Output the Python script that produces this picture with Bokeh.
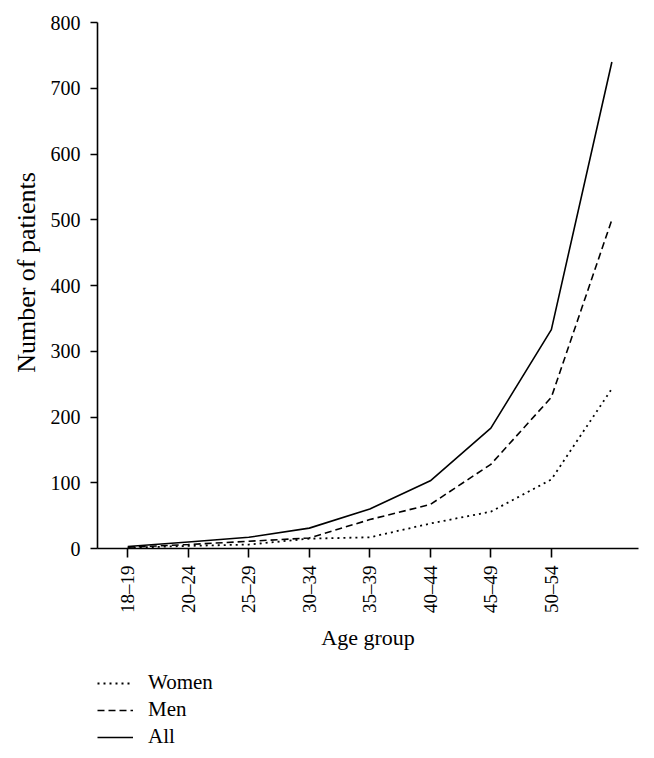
import math
from bokeh.plotting import figure
from bokeh.layouts import column
from bokeh.models import FixedTicker, Legend, LegendItem, Range1d
from bokeh.embed import file_html
from bokeh.resources import INLINE

# Data
age_groups = ["18–19", "20–24", "25–29", "30–34", "35–39", "40–44", "45–49", "50–54", "≥55"]
tick_labels = ["18–19", "20–24", "25–29", "30–34", "35–39", "40–44", "45–49", "50–54"]
women = [1, 4, 6, 15, 17, 38, 56, 105, 243]
men = [2, 6, 11, 16, 44, 67, 128, 230, 500]
all_patients = [3, 10, 17, 31, 60, 103, 183, 333, 740]
y_ticks = [0, 100, 200, 300, 400, 500, 600, 700, 800]
series_names = ["Women", "Men", "All"]

x = list(range(len(age_groups)))

FONT = "Liberation Serif"
W = 646

p = figure(width=W, height=660, output_backend="svg", toolbar_location=None,
           x_range=Range1d(-0.5, 8.44), y_range=Range1d(0, 800),
           min_border_left=97, min_border_right=8, min_border_top=22, min_border_bottom=112)

p.outline_line_color = None
p.xgrid.visible = False
p.ygrid.visible = False

styles = [dict(line_dash="2 4", line_width=1.8), dict(line_dash="7 4", line_width=1.6), dict(line_dash="solid", line_width=1.6)]
series = [women, men, all_patients]
for s, st in zip(series, styles):
    p.line(x, s, line_color="black", **st)

# x axis
xa = p.xaxis[0]
xa.ticker = FixedTicker(ticks=list(range(len(tick_labels))))
xa.major_label_overrides = {i: t for i, t in enumerate(tick_labels)}
xa.major_label_orientation = math.pi / 2
xa.minor_tick_line_color = None
xa.major_tick_in = 0
xa.major_tick_out = 9
xa.major_label_standoff = 8
xa.axis_label = "Age group"
xa.axis_label_standoff = 9
for ax in (p.xaxis[0], p.yaxis[0]):
    ax.axis_line_color = "black"
    ax.axis_line_width = 1.6
    ax.major_tick_line_color = "black"
    ax.major_tick_line_width = 1.6
    ax.major_label_text_font = FONT
    ax.major_label_text_color = "black"
    ax.axis_label_text_font = FONT
    ax.axis_label_text_font_style = "normal"
    ax.axis_label_text_color = "black"
xa.major_label_text_font_size = "19px"
xa.axis_label_text_font_size = "22px"

ya = p.yaxis[0]
ya.ticker = FixedTicker(ticks=y_ticks)
ya.minor_tick_line_color = None
ya.major_tick_in = 0
ya.major_tick_out = 7
ya.major_label_standoff = 10
ya.major_label_text_font_size = "20px"
ya.axis_label = "\u00a0\u00a0\u00a0\u00a0Number of patients"
ya.axis_label_text_font_size = "26px"
ya.axis_label_standoff = 7

# Legend panel below the chart
lg = figure(width=W, height=90, output_backend="svg", toolbar_location=None,
            x_range=Range1d(0, 1), y_range=Range1d(0, 1),
            x_axis_location=None, y_axis_location=None,
            min_border_left=0, min_border_right=0, min_border_top=0, min_border_bottom=0)
lg.xgrid.visible = False
lg.ygrid.visible = False
lg.outline_line_color = None
items = []
for name, s, st in zip(series_names, series, styles):
    r = lg.line(x, s, line_color="black", visible=False, **st)
    items.append(LegendItem(label=name, renderers=[r]))

legend = Legend(items=items, location=(0, 1), orientation="vertical")
legend.border_line_color = None
legend.background_fill_alpha = 0
legend.padding = 0
legend.margin = 0
legend.spacing = 2
legend.glyph_width = 36
legend.glyph_height = 20
legend.label_standoff = 15
legend.label_text_font = FONT
legend.label_text_font_size = "21px"
legend.label_text_color = "black"
legend.label_height = 20
lg.add_layout(legend, "center")

layout = column(p, lg, spacing=0)
open("out.html", "w").write(file_html(layout, INLINE))
